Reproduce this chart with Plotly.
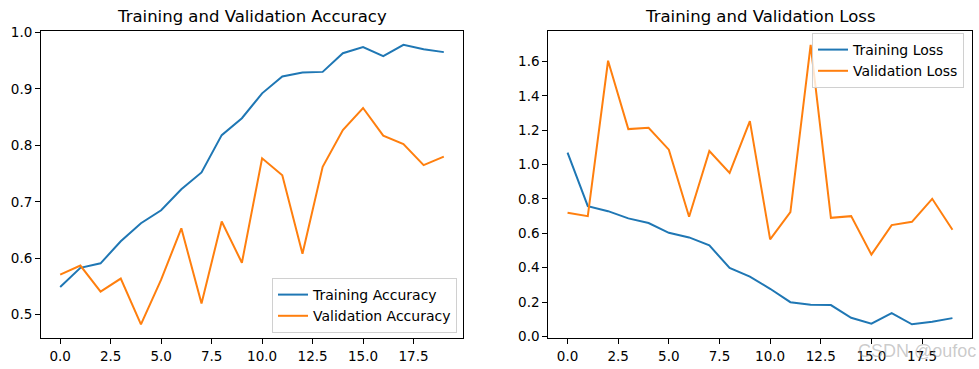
import plotly.graph_objects as go

epochs = list(range(20))
train_acc = [0.549, 0.583, 0.591, 0.630, 0.662, 0.685, 0.722, 0.752, 0.818, 0.848,
             0.892, 0.922, 0.929, 0.930, 0.963, 0.974, 0.958, 0.978, 0.970, 0.965]
val_acc = [0.571, 0.587, 0.541, 0.564, 0.483, 0.562, 0.653, 0.520, 0.665, 0.592,
           0.777, 0.747, 0.608, 0.762, 0.827, 0.866, 0.817, 0.802, 0.765, 0.780]
train_loss = [1.070, 0.758, 0.729, 0.687, 0.660, 0.603, 0.576, 0.530, 0.398, 0.348,
              0.277, 0.199, 0.184, 0.182, 0.108, 0.074, 0.135, 0.070, 0.085, 0.106]
val_loss = [0.720, 0.700, 1.605, 1.207, 1.215, 1.087, 0.696, 1.079, 0.952, 1.253,
            0.565, 0.723, 1.698, 0.690, 0.700, 0.476, 0.648, 0.667, 0.801, 0.621]

x_ticks = [0, 2.5, 5, 7.5, 10, 12.5, 15, 17.5]
x_tick_labels = ["0.0", "2.5", "5.0", "7.5", "10.0", "12.5", "15.0", "17.5"]
acc_ticks = [0.5, 0.6, 0.7, 0.8, 0.9, 1.0]
acc_tick_labels = ["0.5", "0.6", "0.7", "0.8", "0.9", "1.0"]
loss_ticks = [0.0, 0.2, 0.4, 0.6, 0.8, 1.0, 1.2, 1.4, 1.6]
loss_tick_labels = ["0.0", "0.2", "0.4", "0.6", "0.8", "1.0", "1.2", "1.4", "1.6"]

C0 = "#1f77b4"
C1 = "#ff7f0e"
FONT = "DejaVu Sans"
W, H = 979, 369

fig = go.Figure()
fig.add_trace(go.Scatter(x=epochs, y=train_acc, mode="lines", name="Training Accuracy",
                         line=dict(color=C0, width=2), xaxis="x", yaxis="y", legend="legend"))
fig.add_trace(go.Scatter(x=epochs, y=val_acc, mode="lines", name="Validation Accuracy",
                         line=dict(color=C1, width=2), xaxis="x", yaxis="y", legend="legend"))
fig.add_trace(go.Scatter(x=epochs, y=train_loss, mode="lines", name="Training Loss",
                         line=dict(color=C0, width=2), xaxis="x2", yaxis="y2", legend="legend2"))
fig.add_trace(go.Scatter(x=epochs, y=val_loss, mode="lines", name="Validation Loss",
                         line=dict(color=C1, width=2), xaxis="x2", yaxis="y2", legend="legend2"))

def ax_common():
    return dict(showline=True, mirror=True, linecolor="black", linewidth=1,
                ticks="outside", ticklen=5, tickwidth=1, tickcolor="black",
                showgrid=False, zeroline=False, automargin=False,
                tickfont=dict(family=FONT, size=13.5, color="black"))

ydom = [1 - 338.3 / H, 1 - 30.8 / H]
lo_min, lo_max = min(train_loss + val_loss), max(train_loss + val_loss)
ac_min, ac_max = min(train_acc + val_acc), max(train_acc + val_acc)
pad_a = (ac_max - ac_min) * 0.05
pad_l = (lo_max - lo_min) * 0.05

fig.update_layout(
    width=W, height=H,
    margin=dict(l=0, r=0, t=0, b=0),
    paper_bgcolor="white", plot_bgcolor="white",
    font=dict(family=FONT, size=13, color="black"),
    hovermode=False,
    xaxis=dict(domain=[41 / W, 463 / W], range=[-0.95, 19.95],
               tickvals=x_ticks, ticktext=x_tick_labels, anchor="y", **ax_common()),
    yaxis=dict(domain=ydom, range=[ac_min - pad_a, ac_max + pad_a],
               tickvals=acc_ticks, ticktext=acc_tick_labels, anchor="x", **ax_common()),
    xaxis2=dict(domain=[548.3 / W, 971.7 / W], range=[-0.95, 19.95],
                tickvals=x_ticks, ticktext=x_tick_labels, anchor="y2", **ax_common()),
    yaxis2=dict(domain=ydom, range=[lo_min - pad_l, lo_max + pad_l],
                tickvals=loss_ticks, ticktext=loss_tick_labels, anchor="x2", **ax_common()),
    legend=dict(x=457 / W, y=1 - 333 / H, xanchor="right", yanchor="bottom",
                bgcolor="rgba(255,255,255,0.8)", bordercolor="#d0d0d0", borderwidth=1,
                font=dict(family=FONT, size=14, color="black"), tracegroupgap=0),
    legend2=dict(x=964 / W, y=1 - 33 / H, xanchor="right", yanchor="top",
                 bgcolor="rgba(255,255,255,0.8)", bordercolor="#d0d0d0", borderwidth=1,
                 font=dict(family=FONT, size=14, color="black"), tracegroupgap=0),
    showlegend=True,
    annotations=[
        dict(text="Training and Validation Accuracy", x=(41 + 463) / 2 / W, y=1 - 16 / H,
             xref="paper", yref="paper", showarrow=False, xanchor="center", yanchor="middle",
             font=dict(family=FONT, size=16.5, color="black")),
        dict(text="Training and Validation Loss", x=(548.3 + 971.7) / 2 / W, y=1 - 16 / H,
             xref="paper", yref="paper", showarrow=False, xanchor="center", yanchor="middle",
             font=dict(family=FONT, size=16.5, color="black")),
        dict(text="CSDN @oufoc", x=856 / W, y=1 - 351 / H,
             xref="paper", yref="paper", showarrow=False, xanchor="left", yanchor="middle",
             font=dict(family="Liberation Sans", size=18, color="rgba(140,140,140,0.45)")),
    ],
)

fig.write_html("out.html", config={"displayModeBar": False, "staticPlot": True},
               post_script="document.body.style.margin='0';document.body.style.overflow='hidden';")
